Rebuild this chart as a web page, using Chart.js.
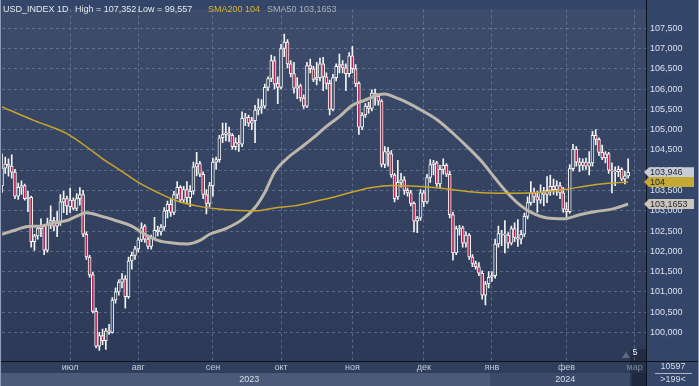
<!DOCTYPE html>
<html lang="ru">
<head>
<meta charset="UTF-8" />
<title>USD_INDEX 1D</title>
<script src="https://cdn.jsdelivr.net/npm/chart.js"></script>
<style>
  html, body { margin: 0; padding: 0; background: #34456a; }
  canvas { display: block; }
</style>
</head>
<body>
<canvas id="chart" width="699" height="386"></canvas>
<script>
// daily bars, 2 Jun 2023 .. 28 Feb 2024 (array index = bar number on the x axis)
const opens = [
  103.62,104.05,104.15,104.10,103.95,103.36,103.58,103.62,103.30,103.33,
  102.24,102.38,102.56,102.62,102.03,102.68,102.76,102.62,102.70,103.22,
  103.30,103.10,103.26,103.06,103.30,103.40,102.42,101.86,101.42,100.52,
  99.66,99.92,99.80,100.04,100.00,100.80,101.00,101.24,101.32,100.88,
  101.76,101.90,102.06,102.28,102.62,102.30,102.12,102.32,102.52,102.48,
  102.60,103.00,103.16,102.96,103.40,103.58,103.26,103.52,103.32,103.48,
  104.08,104.16,103.90,103.40,103.18,103.62,104.20,104.26,104.80,104.88,
  104.92,104.86,104.58,104.68,104.64,105.28,105.30,105.16,105.22,105.48,
  105.54,105.58,106.04,106.26,106.70,106.14,106.04,107.00,107.16,106.62,
  106.38,106.02,106.08,105.78,105.58,106.58,106.50,106.24,106.28,106.62,
  106.30,106.14,105.50,106.28,106.56,106.60,106.52,106.38,106.82,106.50,
  106.14,105.06,105.36,105.58,105.52,105.90,105.82,105.70,104.14,104.46,
  104.40,103.88,103.34,103.70,103.76,103.50,103.44,103.18,102.74,102.82,
  103.44,103.22,103.82,104.14,104.18,103.66,104.02,104.12,103.90,102.90,
  101.96,102.56,102.58,102.20,102.40,101.86,101.70,101.62,101.46,100.92,
  101.20,101.36,101.40,102.18,102.44,102.42,102.40,102.20,102.56,102.34,
  102.30,102.42,102.86,103.20,103.44,103.34,103.26,103.46,103.40,103.50,
  103.60,103.52,103.62,103.44,103.04,102.98,104.04,104.52,104.20,104.12,
  104.20,104.10,104.18,104.86,104.76,104.44,104.30,104.40,104.00,103.98,
  103.96,104.02,103.78,103.86
];
const highs = [
  104.40,104.32,104.28,104.38,104.02,103.68,103.74,103.66,103.48,103.36,
  102.42,102.62,102.80,102.66,102.82,103.12,102.84,102.98,103.40,103.48,
  103.36,103.56,103.32,103.42,103.57,103.50,102.48,101.90,101.48,100.60,
  100.00,100.08,100.10,100.20,100.86,101.10,101.30,101.45,101.40,101.86,
  101.98,102.12,102.34,102.70,102.66,102.38,102.40,102.84,102.62,102.66,
  103.08,103.24,103.28,103.48,103.72,103.62,103.60,103.72,103.62,104.20,
  104.44,104.22,103.96,103.52,103.70,104.30,104.32,104.86,105.16,105.16,
  105.06,104.90,104.80,104.86,105.44,105.40,105.36,105.30,105.60,105.76,
  105.74,106.12,106.30,106.84,106.80,106.30,107.10,107.352,107.22,106.70,
  106.66,106.28,106.12,105.86,106.66,106.74,106.56,106.66,106.76,106.78,
  106.40,106.22,106.36,106.62,106.86,106.70,106.62,106.90,107.05,106.60,
  106.18,105.42,105.64,105.68,105.98,106.00,105.86,105.74,104.58,104.56,
  104.48,103.92,104.24,103.92,103.84,103.56,103.50,103.22,102.86,103.52,
  103.50,103.90,104.26,104.24,104.22,104.12,104.28,104.16,103.98,102.96,
  102.62,102.64,102.62,102.48,102.44,101.92,101.76,101.72,101.52,101.26,
  101.50,101.50,102.30,102.62,102.52,102.76,102.46,102.62,102.70,102.78,
  102.52,102.94,103.34,103.72,103.56,103.48,103.64,103.58,103.84,103.88,
  103.78,103.74,103.70,103.58,103.20,104.14,104.64,104.58,104.30,104.28,
  104.30,104.46,104.96,105.00,104.80,104.62,104.46,104.44,104.18,104.08,
  104.10,104.06,103.98,104.28
];
const lows = [
  103.45,103.92,103.85,103.80,103.30,103.28,103.40,103.26,102.98,102.10,
  102.02,102.30,102.36,101.92,101.98,102.56,102.50,102.36,102.64,102.95,
  102.90,102.95,103.02,103.00,103.14,102.36,101.80,101.36,100.48,99.62,
  99.557,99.70,99.58,99.95,99.98,100.72,100.92,101.10,100.60,100.84,
  101.56,101.80,101.98,102.24,102.22,102.06,102.05,102.30,102.38,102.40,
  102.52,102.82,102.86,102.90,103.30,103.20,103.20,103.18,103.10,103.40,
  103.86,103.84,103.30,102.92,103.10,103.36,104.02,104.20,104.68,104.72,
  104.70,104.52,104.50,104.46,104.58,105.10,105.08,105.00,104.68,105.36,
  105.40,105.52,105.96,106.18,106.00,105.64,106.00,106.80,106.52,106.30,
  105.90,105.76,105.70,105.52,105.54,106.40,106.18,106.10,106.20,105.96,
  106.00,105.36,105.46,106.20,106.40,106.40,105.96,106.30,106.40,106.06,
  104.88,105.00,105.30,105.40,105.46,105.60,105.60,104.08,104.06,104.10,
  103.82,103.22,103.28,103.58,103.40,103.36,103.12,102.48,102.46,102.76,
  103.10,103.18,103.70,103.88,103.60,103.56,103.90,103.84,102.82,101.78,
  101.92,102.40,102.10,102.10,101.80,101.62,101.56,101.40,100.82,100.68,
  101.10,101.26,101.34,102.10,102.14,101.96,102.08,102.16,102.24,102.12,
  102.18,102.36,102.80,103.14,103.20,102.96,103.18,103.12,103.20,103.38,
  103.40,103.38,103.30,102.96,102.84,102.94,103.98,104.10,103.96,104.00,
  104.02,103.88,104.10,104.62,104.36,104.26,104.18,103.92,103.44,103.62,
  103.84,103.74,103.66,103.80
];
const closes = [
  104.05,104.15,104.10,103.95,103.36,103.58,103.62,103.30,103.33,102.24,
  102.38,102.56,102.62,102.03,102.68,102.76,102.62,102.70,103.22,103.30,
  103.12,103.26,103.06,103.30,103.40,102.42,101.86,101.42,100.52,99.66,
  99.92,99.80,100.04,100.00,100.80,101.00,101.24,101.32,100.88,101.76,
  101.90,102.06,102.28,102.58,102.30,102.12,102.32,102.52,102.48,102.60,
  103.00,103.16,102.96,103.40,103.58,103.26,103.52,103.32,103.48,104.08,
  104.16,103.90,103.40,103.18,103.62,104.20,104.26,104.80,104.88,104.92,
  104.86,104.58,104.68,104.64,105.28,105.30,105.16,105.22,105.48,105.54,
  105.58,106.04,106.26,106.70,106.12,106.04,107.00,107.16,106.62,106.38,
  106.02,106.08,105.78,105.58,106.58,106.50,106.24,106.28,106.62,106.30,
  106.14,105.50,106.28,106.56,106.60,106.52,106.38,106.82,106.50,106.14,
  105.06,105.36,105.58,105.52,105.90,105.82,105.70,104.14,104.46,104.40,
  103.88,103.30,103.70,103.76,103.50,103.44,103.18,102.74,102.82,103.44,
  103.22,103.82,104.14,104.18,103.66,104.02,104.12,103.90,102.90,101.96,
  102.56,102.58,102.20,102.40,101.86,101.70,101.62,101.46,100.92,101.20,
  101.36,101.40,102.18,102.44,102.42,102.40,102.20,102.56,102.34,102.30,
  102.42,102.86,103.20,103.44,103.34,103.26,103.46,103.40,103.50,103.60,
  103.52,103.62,103.44,103.04,102.98,104.04,104.52,104.20,104.12,104.20,
  104.10,104.18,104.86,104.76,104.44,104.30,104.40,104.00,103.98,103.96,
  104.02,103.78,103.86,103.946
];

// moving averages at these bar numbers
const sma200Bars = [0,10,20,27,31,36,42,48,54,60,66,72,78,84,90,96,102,108,114,120,126,132,138,144,150,156,162,168,174,180,186,193];
const sma200Vals = [105.56,105.22,104.90,104.52,104.28,104.02,103.70,103.45,103.24,103.12,103.05,103.01,103.00,103.07,103.12,103.22,103.33,103.46,103.57,103.62,103.61,103.58,103.53,103.47,103.44,103.43,103.44,103.47,103.53,103.61,103.67,103.71];
const sma50Bars = [0,4,8,12,16,20,24,26,30,35,40,44,48,52,57,61,64,69,74,78,81,84,88,92,96,100,104,108,112,116,118,121,124,129,134,139,144,148,152,156,160,164,168,173,178,183,188,193];
const sma50Vals = [102.42,102.52,102.61,102.62,102.70,102.76,102.90,102.95,102.88,102.76,102.62,102.42,102.27,102.21,102.18,102.27,102.42,102.56,102.78,103.08,103.45,103.95,104.30,104.55,104.80,105.08,105.32,105.60,105.73,105.86,105.88,105.80,105.70,105.49,105.25,104.91,104.53,104.20,103.80,103.42,103.12,102.92,102.82,102.80,102.90,102.98,103.04,103.1653];

const monthBars = [21, 42, 65, 86, 108, 130, 151, 174, 195];
const monthLabels = ['июл', 'авг', 'сен', 'окт', 'ноя', 'дек', 'янв', 'фев', 'мар'];
const yearBars = [76.2, 173.6];
const yearLabels = ['2023', '2024'];
const priceTicks = [100, 100.5, 101, 101.5, 102, 102.5, 103, 103.5, 104, 104.5, 105, 105.5, 106, 106.5, 107, 107.5];

const FONT = '"Liberation Sans", Arial, sans-serif';
const fmt = (v, d = 3) => v.toFixed(d).replace('.', ',');

const wicks = highs.map((h, i) => ({ x: i, y: [lows[i], h] }));
const bodies = opens.map((o, i) => ({ x: i, y: [o, closes[i]] }));
const bodyFill = opens.map((o, i) => closes[i] < o ? '#b5244f' : '#33425f');
const sma200 = sma200Bars.map((b, i) => ({ x: b, y: sma200Vals[i] }));
const sma50 = sma50Bars.map((b, i) => ({ x: b, y: sma50Vals[i] }));

function tag(ctx, x0, y, text, bg) {
  ctx.fillStyle = bg;
  ctx.beginPath();
  ctx.moveTo(x0 - 4, y);
  ctx.lineTo(x0 + 1, y - 5);
  ctx.lineTo(x0 + 46, y - 5);
  ctx.lineTo(x0 + 46, y + 5);
  ctx.lineTo(x0 + 1, y + 5);
  ctx.closePath();
  ctx.fill();
  ctx.fillStyle = '#1b2433';
  ctx.textAlign = 'left';
  ctx.textBaseline = 'middle';
  ctx.fillText(text, x0 + 2, y + 0.5);
}

const panels = {
  id: 'panels',
  beforeDraw(chart) {
    const { ctx, chartArea: a, width, height } = chart;
    const xs = chart.scales.x, yr = chart.scales.yr;
    ctx.save();
    ctx.fillStyle = '#34456a';
    ctx.fillRect(0, 0, width, height);
    const g = ctx.createLinearGradient(0, a.top, 0, a.bottom);
    g.addColorStop(0, '#3d4c6b');
    g.addColorStop(1, '#2c3a57');
    ctx.fillStyle = g;
    ctx.fillRect(a.left, a.top, a.right - a.left, a.bottom - a.top);
    // month row
    ctx.fillStyle = '#2f3e5c';
    ctx.fillRect(0, a.bottom, a.right, yr.top - a.bottom);
    // year bands
    const split = xs.getPixelForValue(150.5), end = xs.getPixelForValue(194.2);
    ctx.fillStyle = '#4a5a78';
    ctx.fillRect(0, yr.top, split, yr.bottom - yr.top);
    ctx.fillStyle = '#3b4a69';
    ctx.fillRect(split, yr.top, end - split, yr.bottom - yr.top);
    ctx.fillStyle = '#26324b';
    ctx.fillRect(end, yr.top, a.right - end, yr.bottom - yr.top);
    // scroller column at the right end
    ctx.fillStyle = 'rgba(22,30,48,0.45)';
    ctx.fillRect(end - 2, a.bottom - 12, a.right - end + 2, height - a.bottom + 12);
    ctx.restore();
  },
  afterDraw(chart) {
    const { ctx, chartArea: a, width, height } = chart;
    const ys = chart.scales.y;
    ctx.save();
    ctx.font = '9px ' + FONT;
    ctx.textBaseline = 'alphabetic';
    ctx.fillStyle = '#e4e9f0';
    ctx.fillText('USD_INDEX 1D', 3, 12);
    ctx.fillText('High = ' + fmt(Math.max(...highs)), 75, 12);
    ctx.fillText('Low = ' + fmt(Math.min(...lows)), 138, 12);
    ctx.fillStyle = '#d9b436';
    ctx.fillText('SMA200 ' + Math.round(sma200Vals[sma200Vals.length - 1]), 208, 12);
    ctx.fillStyle = '#aab0b8';
    ctx.fillText('SMA50 ' + fmt(sma50Vals[sma50Vals.length - 1], 4), 267, 12);

    // frame lines
    ctx.strokeStyle = '#0c111b';
    ctx.lineWidth = 1;
    ctx.beginPath();
    ctx.moveTo(a.right + 0.5, 0); ctx.lineTo(a.right + 0.5, height);
    ctx.moveTo(0, a.bottom + 0.5); ctx.lineTo(width, a.bottom + 0.5);
    ctx.stroke();
    ctx.strokeStyle = '#8e9cb6';
    ctx.beginPath();
    ctx.moveTo(0.5, 0); ctx.lineTo(0.5, height);
    ctx.moveTo(width - 0.5, 0); ctx.lineTo(width - 0.5, height);
    ctx.stroke();

    // price tags on the right axis
    ctx.font = '9px ' + FONT;
    const x0 = a.right + 2;
    tag(ctx, x0, ys.getPixelForValue(closes[closes.length - 1]), fmt(closes[closes.length - 1]), '#c7ccd5');
    tag(ctx, x0, ys.getPixelForValue(sma200Vals[sma200Vals.length - 1]), String(Math.round(sma200Vals[sma200Vals.length - 1])), '#c4a935');
    tag(ctx, x0, ys.getPixelForValue(sma50Vals[sma50Vals.length - 1]), fmt(sma50Vals[sma50Vals.length - 1], 4), '#cbc4ba');

    // corner box
    ctx.fillStyle = '#d3dae5';
    ctx.textAlign = 'center';
    ctx.textBaseline = 'middle';
    ctx.fillText('10597', 673, 367);
    ctx.fillText('>199<', 673, 380);
    ctx.strokeStyle = '#aeb8c8';
    ctx.beginPath();
    ctx.moveTo(655, 373.5); ctx.lineTo(692, 373.5);
    ctx.stroke();

    // small marker above the scroller
    ctx.fillStyle = '#f0f0f0';
    ctx.fillText('5', 635, 353);
    ctx.fillStyle = 'rgba(130,140,160,0.6)';
    ctx.beginPath();
    ctx.moveTo(622, 358); ctx.lineTo(626, 352); ctx.lineTo(630, 358);
    ctx.closePath();
    ctx.fill();
    ctx.restore();
  }
};

new Chart(document.getElementById('chart'), {
  type: 'bar',
  data: {
    datasets: [
      { type: 'line', data: sma200, borderColor: '#c9a52b', borderWidth: 1.5, pointRadius: 0, cubicInterpolationMode: 'monotone', order: 0 },
      { type: 'line', data: sma50, borderColor: '#bcb6ad', borderWidth: 3, pointRadius: 0, cubicInterpolationMode: 'monotone', order: 1 },
      { data: bodies, backgroundColor: bodyFill, borderColor: '#f4f4f4', borderWidth: 1, borderSkipped: false, barThickness: 3, grouped: false, order: 2 },
      { data: wicks, backgroundColor: '#f4f4f4', barThickness: 1, grouped: false, order: 3 }
    ]
  },
  options: {
    responsive: false,
    animation: false,
    devicePixelRatio: 1,
    layout: { padding: { left: 2, top: 0, right: 0, bottom: 0 } },
    plugins: { legend: { display: false }, tooltip: { enabled: false } },
    scales: {
      x: {
        type: 'linear', min: 0, max: 198.5, offset: false, position: 'bottom',
        afterBuildTicks: s => { s.ticks = monthBars.map(v => ({ value: v })); },
        afterFit: s => { s.height = 12; },
        ticks: {
          autoSkip: false, maxRotation: 0, padding: 1,
          color: c => c.index === monthLabels.length - 1 ? '#7d8aa2' : '#c3ccd9',
          font: { family: FONT, size: 9 },
          callback: (v, i) => monthLabels[i]
        },
        grid: { color: 'rgba(140,160,195,0.45)', drawTicks: false, offset: false },
        border: { color: '#0c111b', dash: [3, 3] }
      },
      yr: {
        axis: 'x', type: 'linear', min: 0, max: 198.5, offset: false, position: 'bottom',
        afterBuildTicks: s => { s.ticks = yearBars.map(v => ({ value: v })); },
        afterFit: s => { s.height = 13; },
        ticks: {
          autoSkip: false, maxRotation: 0, padding: 1, color: '#d6dde8',
          font: { family: FONT, size: 9 },
          callback: (v, i) => yearLabels[i]
        },
        grid: { display: false, drawTicks: false },
        border: { display: false }
      },
      y: {
        position: 'right', min: 99.296, max: 107.963,
        afterBuildTicks: s => { s.ticks = priceTicks.map(v => ({ value: v })); },
        afterFit: s => { s.width = 53; },
        ticks: { padding: 4, color: '#dbe2ec', font: { family: FONT, size: 9 }, callback: v => fmt(v) },
        grid: { color: 'rgba(140,160,195,0.45)', drawTicks: false },
        border: { color: '#0c111b', dash: [3, 3] }
      }
    }
  },
  plugins: [panels]
});
</script>
</body>
</html>
